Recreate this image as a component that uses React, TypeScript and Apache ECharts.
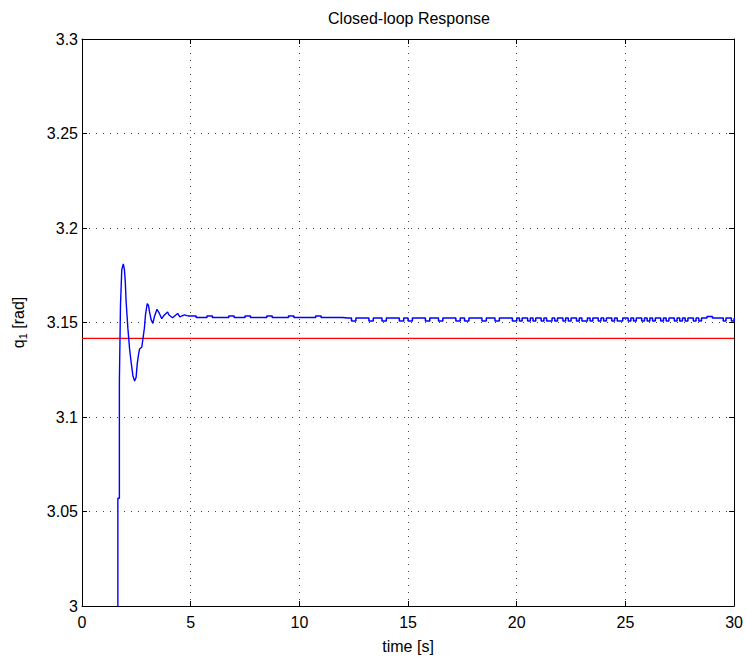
import React, { useEffect, useRef } from "react";
import * as echarts from "echarts";

// Reference angle (red line)
const referenceValue = [3.1416];
const referenceTimes = [0, 30];

// Transient part of the response q1 (time [s], value [rad])
const transientTimes = [
  1.65, 1.65, 1.72, 1.72, 1.77, 1.83, 1.9, 1.95, 1.99, 2.03, 2.11, 2.19, 2.26,
  2.34, 2.42, 2.49, 2.54, 2.6, 2.65, 2.75, 2.8, 2.87, 2.92, 3.0, 3.06, 3.1,
  3.18, 3.26, 3.33, 3.45, 3.56, 3.67, 3.79, 3.94, 4.0, 4.17, 4.4, 4.5, 4.71,
  4.87,
];
const transientValues = [
  2.95, 3.057, 3.057, 3.119, 3.159, 3.178, 3.181, 3.178, 3.172, 3.161, 3.147,
  3.136, 3.129, 3.122, 3.119, 3.121, 3.128, 3.133, 3.136, 3.137, 3.141, 3.147,
  3.154, 3.16, 3.159, 3.156, 3.1515, 3.1495, 3.153, 3.157, 3.1548, 3.152,
  3.154, 3.1556, 3.154, 3.1525, 3.1548, 3.153, 3.154, 3.1535,
];

// Steady-state part A: 5 s .. 11.75 s, sampled every 0.25 s
const steadyAStart = 5;
const steadyAStep = 0.25;
const steadyAValues = [
  3.1535, 3.1527, 3.1527, 3.1535, 3.1527, 3.1527, 3.1527, 3.1535, 3.1527,
  3.1527, 3.1535, 3.1527, 3.1527, 3.1527, 3.1535, 3.1527, 3.1527, 3.1527,
  3.1535, 3.1527, 3.1527, 3.1527, 3.1527, 3.1535, 3.1527, 3.1527, 3.1527,
  3.1527,
];

// Steady-state part B: 12 s .. 19.8 s, sampled every 0.2 s
const steadyBStart = 12;
const steadyBStep = 0.2;
const steadyBValues = [
  3.1524, 3.1524, 3.1508, 3.1524, 3.1524, 3.1524, 3.1508, 3.1524, 3.1524,
  3.1508, 3.1524, 3.1524, 3.1524, 3.1508, 3.1524, 3.1508, 3.1524, 3.1524,
  3.1524, 3.1508, 3.1524, 3.1524, 3.1508, 3.1524, 3.1524, 3.1524, 3.1508,
  3.1524, 3.1508, 3.1524, 3.1524, 3.1524, 3.1508, 3.1524, 3.1524, 3.1508,
  3.1524, 3.1524, 3.1524, 3.1508,
];

// Steady-state part C: 20 s .. 30 s, sampled every 0.125 s
const steadyCStart = 20;
const steadyCStep = 0.125;
const steadyCValues = [
  3.1524, 3.1508, 3.1524, 3.1524, 3.1508, 3.1524, 3.1508, 3.1524, 3.1524, 3.1508,
  3.1524, 3.1508, 3.1508, 3.1524, 3.1508, 3.1524, 3.1524, 3.1508, 3.1524, 3.1508,
  3.1524, 3.1524, 3.1508, 3.1524, 3.1508, 3.1508, 3.1524, 3.1508, 3.1524, 3.1524,
  3.1508, 3.1524, 3.1508, 3.1524, 3.1524, 3.1508, 3.1524, 3.1508, 3.1508, 3.1524,
  3.1524, 3.1508, 3.1524, 3.1508, 3.1524, 3.1524, 3.1508, 3.1524, 3.1508, 3.1524,
  3.1508, 3.1524, 3.1524, 3.1508, 3.1524, 3.1508, 3.1524, 3.1524, 3.1508, 3.1524,
  3.1508, 3.1524, 3.1508, 3.1524, 3.1524, 3.1508, 3.1524, 3.1508, 3.1524, 3.1524,
  3.1532, 3.1532, 3.1524, 3.1524, 3.1524, 3.1524, 3.1508, 3.1524, 3.1524, 3.1508,
  3.1524,
];

const xTicks = { min: 0, max: 30, interval: 5 };
const yTicks = { min: 3, max: 3.3, interval: 0.05 };

const FONT = "'Liberation Sans', Arial, Helvetica, sans-serif";

export default function App() {
  const ref = useRef<HTMLDivElement>(null);

  useEffect(() => {
    if (!ref.current) return;
    const chart = echarts.init(ref.current, undefined, { renderer: "svg" });

    const transient = transientTimes.map((t, i) => [t, transientValues[i]]);
    const lastT = transient[transient.length - 1];
    const seg = (start: number, step: number, vals: number[]) =>
      vals.map((v, i) => [+(start + i * step).toFixed(3), v]);
    const steady = [lastT].concat(
      seg(steadyAStart, steadyAStep, steadyAValues),
      seg(steadyBStart, steadyBStep, steadyBValues),
      seg(steadyCStart, steadyCStep, steadyCValues)
    );
    const refLine = referenceTimes.map((t) => [t, referenceValue[0]]);

    const axisLine = { show: true, onZero: false, lineStyle: { color: "#000", width: 1 } };
    const axisTick = { show: true, inside: true, length: 5, lineStyle: { color: "#000" } };
    const splitLine = {
      show: true,
      lineStyle: { color: "#444", width: 1, type: [1, 6] as any },
    };
    const labelStyle = { color: "#000", fontSize: 16, fontFamily: FONT };

    chart.setOption({
      animation: false,
      backgroundColor: "#fff",
      graphic: [
        {
          type: "text",
          x: 409,
          y: 18,
          style: {
            text: "Closed-loop Response",
            align: "center",
            verticalAlign: "middle",
            fontSize: 16,
            fontFamily: FONT,
            fill: "#000",
          },
        },
      ],
      grid: { left: 82, right: 10, top: 39, bottom: 46, containLabel: false },
      xAxis: [
        {
          type: "value",
          position: "bottom",
          ...xTicks,
          axisLine,
          axisTick,
          splitLine,
          axisLabel: { ...labelStyle, margin: 8 },
          name: "time [s]",
          nameLocation: "middle",
          nameGap: 32,
          nameTextStyle: { ...labelStyle, verticalAlign: "top" },
        },
        {
          type: "value",
          position: "top",
          ...xTicks,
          axisLine,
          axisTick,
          splitLine: { show: false },
          axisLabel: { show: false },
        },
      ],
      yAxis: [
        {
          type: "value",
          position: "left",
          ...yTicks,
          axisLine,
          axisTick,
          splitLine,
          axisLabel: {
            ...labelStyle,
            margin: 4,
            formatter: (v: number) => String(+v.toFixed(2)),
          },
          name: "{q|q}{s|1} [rad]",
          nameLocation: "middle",
          nameGap: 54,
          nameRotate: 90,
          nameTextStyle: {
            ...labelStyle,
            rich: {
              q: { fontSize: 16, fontFamily: FONT, color: "#000" },
              s: { fontSize: 11, fontFamily: FONT, color: "#000", padding: [8, 0, 0, 0] },
            },
          },
        },
        {
          type: "value",
          position: "right",
          ...yTicks,
          axisLine,
          axisTick,
          splitLine: { show: false },
          axisLabel: { show: false },
        },
      ],
      series: [
        {
          type: "line",
          data: refLine,
          symbol: "none",
          lineStyle: { color: "#ff0000", width: 1.2 },
          xAxisIndex: 0,
          yAxisIndex: 0,
          z: 3,
        },
        {
          type: "line",
          data: transient,
          symbol: "none",
          clip: true,
          lineStyle: { color: "#0000ff", width: 1.4 },
          xAxisIndex: 0,
          yAxisIndex: 0,
          z: 4,
        },
        {
          type: "line",
          data: steady,
          step: "end",
          symbol: "none",
          clip: true,
          lineStyle: { color: "#0000ff", width: 1.5 },
          xAxisIndex: 0,
          yAxisIndex: 0,
          z: 4,
        },
      ],
    });

    return () => chart.dispose();
  }, []);

  return (
    <div
      ref={ref}
      style={{ position: "absolute", left: 0, top: 0, width: 746, height: 659, background: "#fff" }}
    />
  );
}
